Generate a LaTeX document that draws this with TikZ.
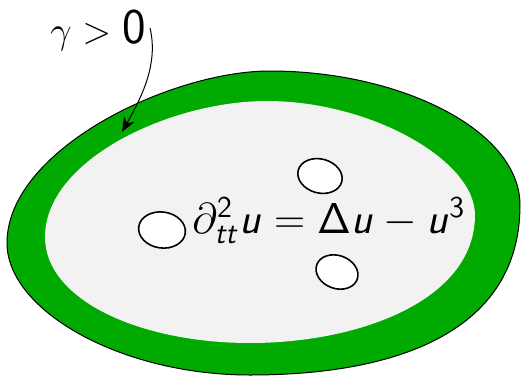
\RequirePackage{fix-cm}
\documentclass[tikz,border=0pt]{standalone}
\usepackage{amsmath}
\usetikzlibrary{arrows.meta}
\definecolor{rimcol}{HTML}{00AA00}
\definecolor{bulkcol}{HTML}{F2F2F2}
\DeclareMathAlphabet{\mathsfit}{OT1}{cmss}{m}{sl}
\newcommand{\su}{\mathsfit{u}}

\begin{document}
\begin{tikzpicture}[
  x=0.5pt, y=-0.5pt,
  rim/.style={draw=black, fill=rimcol, line width=0.5pt},
  bulk/.style={fill=bulkcol},
  hole/.style={draw=black, fill=white, line width=0.8pt},
  pointer/.style={-{Stealth[length=7.5pt, width=6pt]}, line width=0.5pt}
]
\useasboundingbox (0,0) rectangle (521,376);

% domain with boundary layer
\draw[rim] (7,243) .. controls (7,150) and (170,71) .. (270,71)
  .. controls (400,71) and (520,130) .. (520,205)
  .. controls (520,330) and (400,375) .. (250,375)
  .. controls (120,375) and (7,310) .. (7,243) -- cycle;
\fill[bulk] (45,237) .. controls (45,160) and (170,101) .. (267,101)
  .. controls (370,101) and (475,160) .. (475,215)
  .. controls (475,300) and (360,343) .. (250,343)
  .. controls (140,343) and (45,300) .. (45,237) -- cycle;

% obstacles
\draw[hole, rotate around={-8:(162,230)}] (162,230) ellipse (23.5 and 18);
\draw[hole, rotate around={-15:(320,176)}] (320,176) ellipse (22.5 and 17);
\draw[hole, rotate around={-20:(337,272)}] (337,272) ellipse (21.5 and 16.5);

% equation
\node[anchor=base west, inner sep=0pt, font=\fontsize{21.6}{26}\selectfont] (eqn) at (192,233)
  {$\partial^{\mathsf{2}}_{\mathsfit{tt}}\su = \mathsf{\Delta}\su - \su^{\mathsf{3}}$};

% damping label
\node[anchor=base west, inner sep=0pt, font=\fontsize{19}{22}\selectfont] (gam) at (50,43)
  {$\gamma > \hspace{0.5pt}\mbox{\fontsize{25}{30}\selectfont$\mathsf{0}$}$};
\coordinate (gamtail) at (150,28);
\coordinate (rimpt) at (122,132);
\draw[pointer] (gamtail) .. controls (159,65) and (140,100) .. (rimpt);

\end{tikzpicture}
\end{document}
